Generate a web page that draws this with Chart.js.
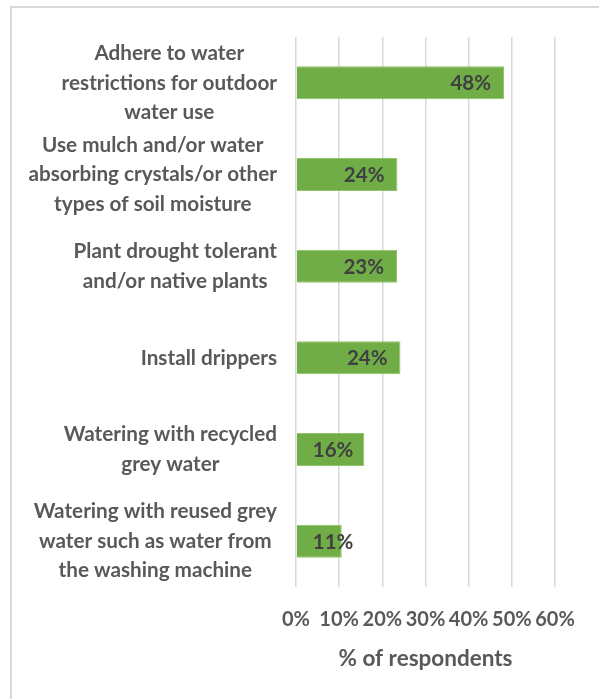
<!DOCTYPE html>
<html lang="en">
<head>
    <meta charset="UTF-8">
    <title>Outdoor water saving actions</title>
    <style>
        body {
            margin: 0;
            padding: 0;
            background: #ffffff;
        }
        .frame {
            position: absolute;
            left: 10px;
            top: 6px;
            width: 620px;
            height: 720px;
            border-top: 2px solid #d9d9d9;
            border-left: 2px solid #d9d9d9;
        }
        .chart-box {
            position: absolute;
            left: 0;
            top: 0;
            width: 599px;
            height: 699px;
        }
    </style>
    <script src="https://cdn.jsdelivr.net/npm/chart.js"></script>
</head>
<body>
    <div class="frame"></div>
    <div class="chart-box">
        <canvas id="barChart" width="599" height="699"></canvas>
    </div>
    <script>
        // Categories (one array of lines per bar)
        const categories = [
            ['Adhere to water', 'restrictions for outdoor', 'water use'],
            ['Use mulch and/or water', 'absorbing crystals/or other', 'types of soil moisture'],
            ['Plant drought tolerant', 'and/or native plants'],
            ['Install drippers'],
            ['Watering with recycled', 'grey water'],
            ['Watering with reused grey', 'water such as water from', 'the washing machine']
        ];

        // % of respondents
        const respondents = [48.2, 23.5, 23.4, 24.2, 15.8, 10.6];

        // x axis ticks
        const xTicks = [0, 10, 20, 30, 40, 50, 60];

        const FONT = 'Lato, "Open Sans", sans-serif';

        // category labels: block right aligned, each line centred in the block
        const categoryLabels = {
            id: 'categoryLabels',
            afterDraw(chart) {
                const ctx = chart.ctx;
                const yScale = chart.scales.y;
                const right = chart.chartArea.left - 19;
                ctx.save();
                ctx.font = 'bold 20.7px ' + FONT;
                ctx.fillStyle = '#595959';
                ctx.textAlign = 'center';
                ctx.textBaseline = 'middle';
                categories.forEach((lines, i) => {
                    const y = yScale.getPixelForValue(i);
                    const maxW = Math.max(...lines.map(l => ctx.measureText(l).width));
                    const cx = right - maxW / 2;
                    lines.forEach((line, k) => {
                        ctx.fillText(line, cx, y + (k - (lines.length - 1) / 2) * 29.5);
                    });
                });
                ctx.restore();
            }
        };

        // value labels at the inside end of each bar
        const valueLabels = {
            id: 'valueLabels',
            afterDatasetsDraw(chart) {
                const ctx = chart.ctx;
                const meta = chart.getDatasetMeta(0);
                ctx.save();
                ctx.font = 'bold 20.5px ' + FONT;
                ctx.fillStyle = '#404040';
                ctx.textAlign = 'left';
                ctx.textBaseline = 'middle';
                meta.data.forEach((bar, i) => {
                    const text = Math.round(respondents[i]) + '%';
                    const w = ctx.measureText(text).width;
                    const left = Math.max(bar.x - 13 - w, bar.base + 16);
                    ctx.fillText(text, left, bar.y + 1);
                });
                ctx.restore();
            }
        };

        window.onload = function() {
            const ctx = document.getElementById('barChart').getContext('2d');
            new Chart(ctx, {
                type: 'bar',
                data: {
                    labels: categories,
                    datasets: [{
                        data: respondents,
                        backgroundColor: '#70ad47',
                        borderColor: '#8fc46a',
                        borderWidth: 1,
                        barPercentage: 0.36,
                        categoryPercentage: 1
                    }]
                },
                options: {
                    indexAxis: 'y',
                    responsive: false,
                    animation: false,
                    layout: {
                        padding: { left: 0, right: 44, top: 37, bottom: 0 }
                    },
                    plugins: {
                        legend: { display: false },
                        tooltip: { enabled: false }
                    },
                    scales: {
                        x: {
                            min: 0,
                            max: 60,
                            afterBuildTicks(scale) {
                                scale.ticks = xTicks.map(v => ({ value: v }));
                            },
                            afterFit(scale) {
                                scale.height = 112;
                            },
                            grid: {
                                color: '#d9d9d9',
                                lineWidth: 1.5,
                                drawTicks: false
                            },
                            border: { display: false },
                            ticks: {
                                padding: 21,
                                color: '#595959',
                                font: { family: FONT, size: 20, weight: 'bold' },
                                maxRotation: 0,
                                autoSkip: false,
                                callback: v => v + '%'
                            },
                            title: {
                                display: true,
                                text: '% of respondents',
                                color: '#595959',
                                font: { family: FONT, size: 22.5, weight: 'bold' },
                                padding: { top: 0, bottom: 27 }
                            }
                        },
                        y: {
                            afterFit(scale) {
                                scale.width = 296;
                            },
                            grid: { display: false },
                            border: { display: false },
                            ticks: { display: false }
                        }
                    }
                },
                plugins: [categoryLabels, valueLabels]
            });
        };
    </script>
</body>
</html>
